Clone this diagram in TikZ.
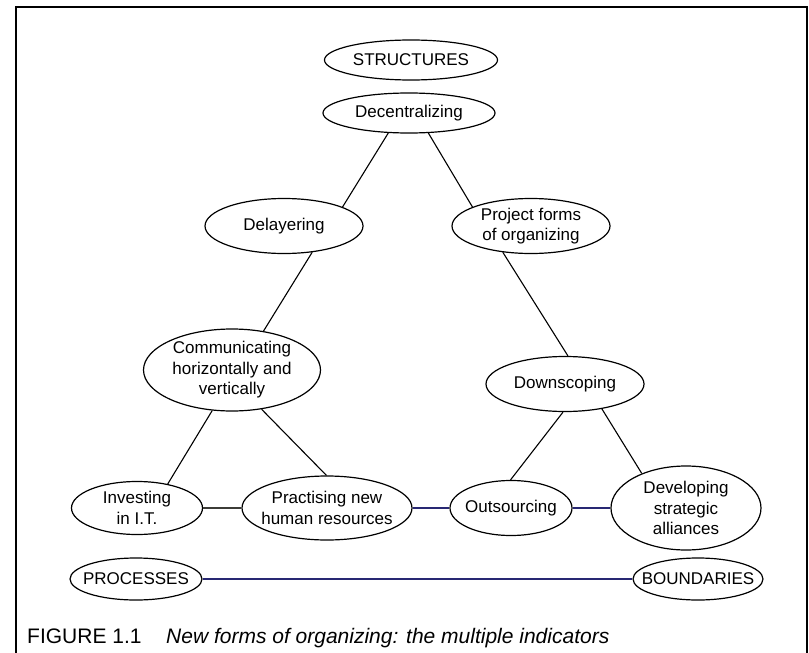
\documentclass[tikz,border=0pt]{standalone}
\usepackage{fontspec}
\setmainfont{Liberation Sans}
\usetikzlibrary{shapes.geometric}
\definecolor{linkblue}{RGB}{40,40,115}
\definecolor{linkgrey}{RGB}{60,60,55}

\begin{document}
\begin{tikzpicture}[x=1pt, y=-1pt,
        indicator/.style={ellipse, draw, line width=1.2pt, inner xsep=-12pt, inner ysep=0pt, align=center, font=\fontsize{17}{20.5}\selectfont},
        link/.style={line width=1.1pt},
        caption/.style={anchor=base west, inner sep=0pt, font=\fontsize{21}{25}\selectfont}] % pixel-like units, y downwards
                \useasboundingbox (0,0) rectangle (809,653);
                \pgfmathsetmacro{\baserow}{508}
                \pgfmathsetmacro{\edgerow}{579}

                % Frame (open at the bottom)
                \draw[line width=2.5pt] (16,653) -- (16,7) -- (807,7) -- (807,653);

                % Structures and the two upper branches
                \node[indicator, minimum width=173pt, minimum height=40pt] (structures) at (411,60) {STRUCTURES};
                \node[indicator, minimum width=172pt, minimum height=40pt] (decentral) at (409,113) {Decentralizing};
                \node[indicator, minimum width=158pt, minimum height=55pt] (delayer) at (284,226) {Delayering};
                \node[indicator, minimum width=158pt, minimum height=55pt] (project) at (531,226) {Project forms\\of organizing};
                \node[indicator, minimum width=177pt, minimum height=82pt] (comm) at (232,370) {Communicating\\horizontally and\\vertically};
                \node[indicator, minimum width=158pt, minimum height=55pt] (downscop) at (565,384) {Downscoping};

                % Bottom row of indicators
                \node[indicator, minimum width=131pt, minimum height=53pt] (invest) at (137,\baserow) {Investing\\in I.T.};
                \node[indicator, minimum width=170pt, minimum height=64pt] (practis) at (327,\baserow) {Practising new\\human resources};
                \node[indicator, minimum width=122pt, minimum height=55pt] (outsrc) at (511,\baserow) {Outsourcing};
                \node[indicator, minimum width=150pt, minimum height=84pt] (develop) at (686,\baserow) {Developing\\strategic\\alliances};

                % Processes and boundaries
                \node[indicator, minimum width=132pt, minimum height=42pt] (processes) at (136,\edgerow) {PROCESSES};
                \node[indicator, minimum width=130pt, minimum height=42pt] (boundaries) at (698,\edgerow) {BOUNDARIES};

                % Diagonal connectors
                \draw[link] (decentral.224) -- (delayer.18);
                \draw[link] (decentral.314) -- (project.162);
                \draw[link] (delayer.317) -- (comm.51);
                \draw[link] (project.223) -- (downscop.84);
                \draw[link] (comm.244) -- (invest.38);
                \draw[link] (comm.307) -- (practis.91);
                \draw[link] (downscop.266) -- (outsrc.91);
                \draw[link] (downscop.326) -- (develop.142);

                % Horizontal connectors
                \draw[link, linkgrey] (invest) -- (practis);
                \draw[link, linkblue] (practis) -- (outsrc);
                \draw[link, linkblue] (outsrc) -- (develop);
                \draw[link, linkblue] (processes) -- (boundaries);

                % Caption
                \node[caption] (figno) at (27,643) {FIGURE 1.1};
                \node[caption, font=\fontsize{21}{25}\selectfont\itshape] (figtitle) at (166,643) {New forms of organizing: the multiple indicators};

            \end{tikzpicture}
\end{document}
